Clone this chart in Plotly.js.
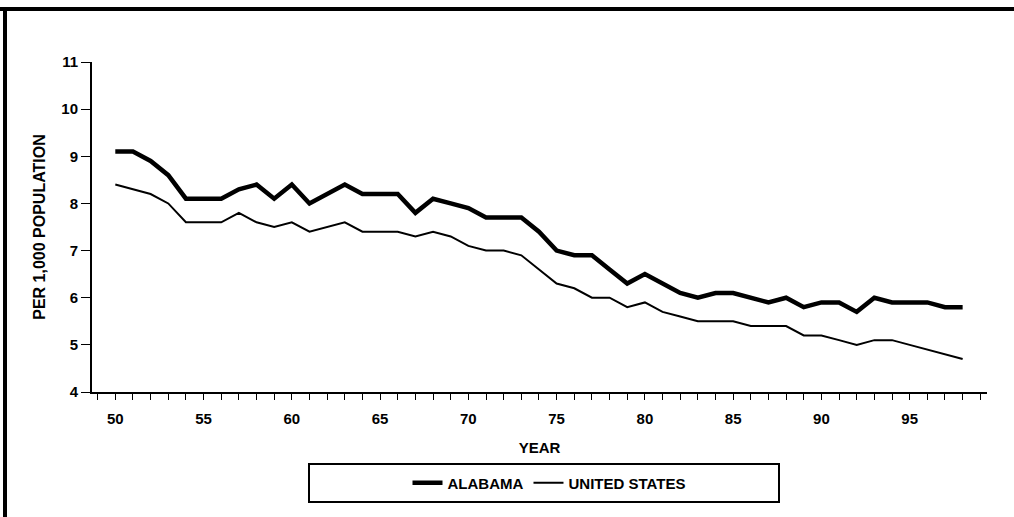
<!DOCTYPE html>
<html>
<head>
<meta charset="utf-8">
<script src="https://cdn.plot.ly/plotly-3.0.1.min.js"></script>
<style>
  html, body { margin: 0; padding: 0; background: #fff; }
  #chart { width: 1014px; height: 517px; }
</style>
</head>
<body>
<div id="chart"></div>
<script>
// Years (two-digit, 1950-1998)
const years = [50,51,52,53,54,55,56,57,58,59,60,61,62,63,64,65,66,67,68,69,70,71,72,73,74,75,76,77,78,79,80,81,82,83,84,85,86,87,88,89,90,91,92,93,94,95,96,97,98];

// Rate per 1,000 population
const alabama = [9.1,9.1,8.9,8.6,8.1,8.1,8.1,8.3,8.4,8.1,8.4,8.0,8.2,8.4,8.2,8.2,8.2,7.8,8.1,8.0,7.9,7.7,7.7,7.7,7.4,7.0,6.9,6.9,6.6,6.3,6.5,6.3,6.1,6.0,6.1,6.1,6.0,5.9,6.0,5.8,5.9,5.9,5.7,6.0,5.9,5.9,5.9,5.8,5.8];
const unitedStates = [8.4,8.3,8.2,8.0,7.6,7.6,7.6,7.8,7.6,7.5,7.6,7.4,7.5,7.6,7.4,7.4,7.4,7.3,7.4,7.3,7.1,7.0,7.0,6.9,6.6,6.3,6.2,6.0,6.0,5.8,5.9,5.7,5.6,5.5,5.5,5.5,5.4,5.4,5.4,5.2,5.2,5.1,5.0,5.1,5.1,5.0,4.9,4.8,4.7];

const seriesNames = ['ALABAMA', 'UNITED STATES'];
const xTickVals = [50,55,60,65,70,75,80,85,90,95];
const yTickVals = [4,5,6,7,8,9,10,11];

const FONT = 'Liberation Sans, Arial, Helvetica, sans-serif';

const traces = [
  {
    x: years, y: alabama, name: seriesNames[0], type: 'scatter', mode: 'lines',
    line: { color: '#000', width: 4.5 }
  },
  {
    x: years, y: unitedStates, name: seriesNames[1], type: 'scatter', mode: 'lines',
    line: { color: '#000', width: 2 }
  }
];

const L = 92, R = 27, T = 62, B = 125;
const W = 1014, H = 517;
const pw = W - L - R, ph = H - T - B;
const px = v => (v - L) / pw;
const py = v => (H - B - v) / ph;

const layout = {
  width: W, height: H,
  margin: { l: L, r: R, t: T, b: B },
  paper_bgcolor: '#fff', plot_bgcolor: '#fff',
  font: { family: FONT, color: '#000', size: 15 },
  showlegend: true,
  legend: {
    orientation: 'h',
    x: px(549), xanchor: 'center',
    y: py(483), yanchor: 'middle',
    font: { family: FONT, size: 15, weight: 'bold', color: '#000' },
    bgcolor: 'rgba(0,0,0,0)',
    traceorder: 'normal'
  },
  xaxis: {
    range: [48.68, 99.38],
    tickvals: xTickVals,
    ticktext: xTickVals.map(String),
    ticks: 'outside', ticklen: 6, tickwidth: 1, tickcolor: '#000',
    minor: { dtick: 1, tick0: 50, ticks: 'outside', ticklen: 6, tickwidth: 1, tickcolor: '#000' },
    ticklabelstandoff: 6,
    tickfont: { family: FONT, size: 15, weight: 'bold', color: '#000' },
    showline: true, linecolor: '#000', linewidth: 2,
    showgrid: false, zeroline: false,
    title: { text: 'YEAR', font: { family: FONT, size: 15, weight: 'bold', color: '#000' }, standoff: 16 }
  },
  yaxis: {
    range: [4, 11],
    tickvals: yTickVals,
    ticks: 'outside', ticklen: 9, tickwidth: 1, tickcolor: '#000',
    ticklabelstandoff: 0,
    tickfont: { family: FONT, size: 15, weight: 'bold', color: '#000' },
    showline: true, linecolor: '#000', linewidth: 2,
    showgrid: false, zeroline: false,
    title: { text: 'PER 1,000 POPULATION', font: { family: FONT, size: 16, weight: 'bold', color: '#000' }, standoff: 12 }
  },
  shapes: [
    // legend box
    { type: 'rect', xref: 'paper', yref: 'paper',
      x0: px(309), x1: px(779), y0: py(502), y1: py(464),
      line: { color: '#000', width: 2 }, fillcolor: 'rgba(0,0,0,0)' },
    // outer frame: top
    { type: 'line', xref: 'paper', yref: 'paper',
      x0: px(0), x1: px(1014), y0: py(9), y1: py(9),
      line: { color: '#000', width: 4 } },
    // outer frame: left
    { type: 'line', xref: 'paper', yref: 'paper',
      x0: px(5), x1: px(5), y0: py(7), y1: py(517),
      line: { color: '#000', width: 4 } }
  ]
};

Plotly.newPlot('chart', traces, layout, { displayModeBar: false, staticPlot: true });
</script>
</body>
</html>
